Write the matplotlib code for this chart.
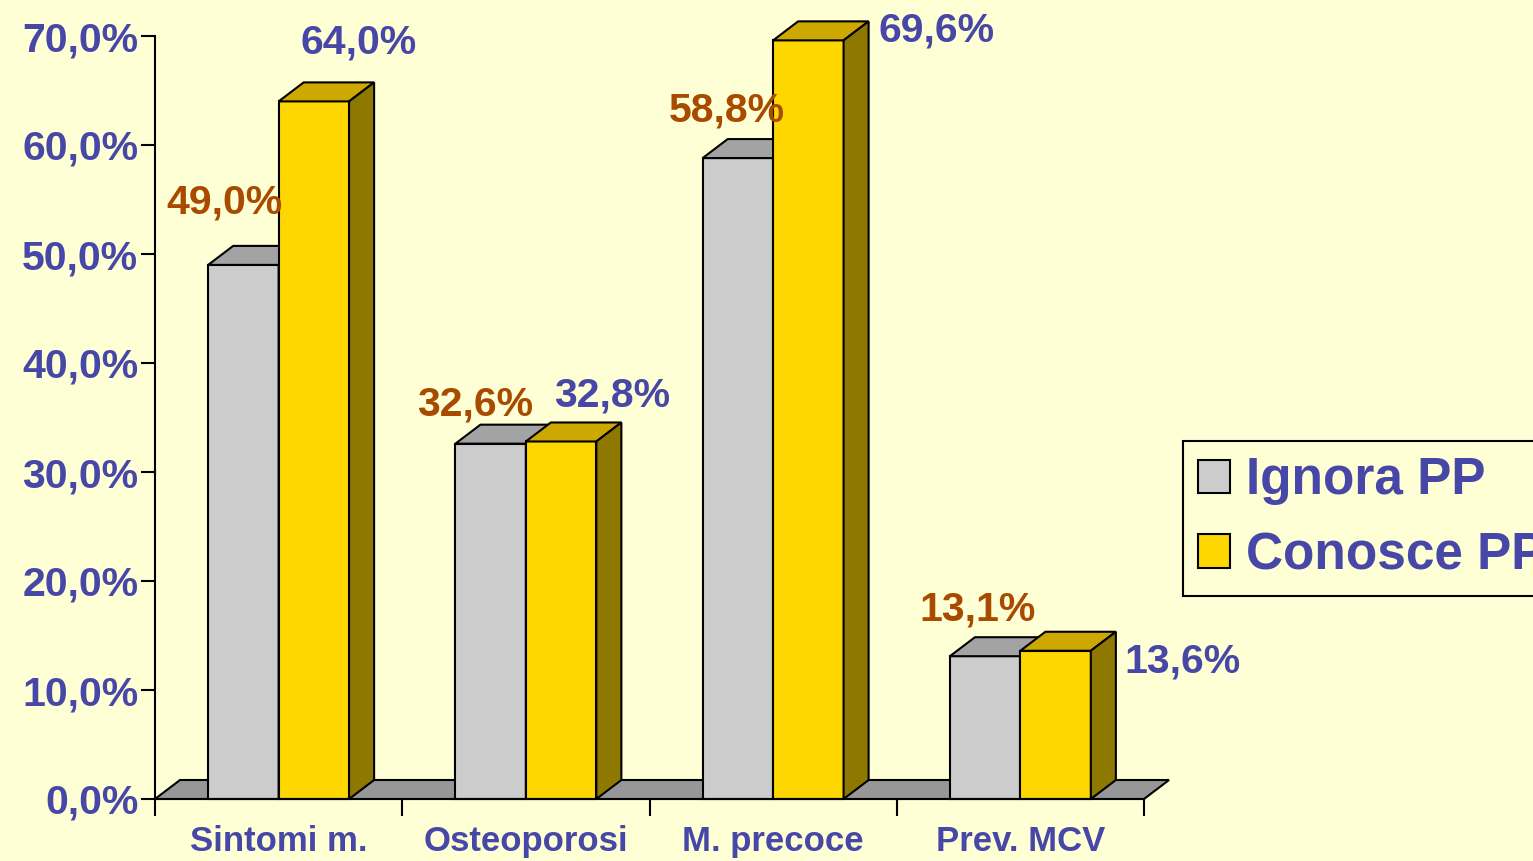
import numpy as np
import matplotlib.pyplot as plt
from matplotlib.patches import Patch

plt.rcParams['font.family'] = ['Liberation Sans', 'DejaVu Sans']
plt.rcParams['font.weight'] = 'bold'

# dati
categorie = ["Sintomi m.", "Osteoporosi", "M. precoce", "Prev. MCV"]
ignora_pp = [49.0, 32.6, 58.8, 13.1]
conosce_pp = [64.0, 32.8, 69.6, 13.6]
serie_nomi = ["Ignora PP", "Conosce PP"]

# spostamenti etichette (pixel)
off_ignora = [(-19, 62), (-16, 39), (-11, 48), (-8, 47)]
off_conosce = [(45, 59), (51, 46), (128, 10), (127, -11)]

BG = "#FFFFD5"
BLU = "#4747A8"
MARRONE = "#A84A00"
GRIGIO = dict(front="#CCCCCC", top="#A3A3A3", side="#7F7F7F")
GIALLO = dict(front="#FFD700", top="#CCA800", side="#8F7800")
PAVIMENTO = "#979797"

fig = plt.figure(figsize=(15.33, 8.61), dpi=100, facecolor=BG)
ax = fig.add_axes([155 / 1533, 62 / 861, 989 / 1533, 763 / 861])
ax.set_facecolor(BG)
ax.set_xlim(0, 4)
ax.set_ylim(0, 70)

# profondità 3D in unità dati
dx = 25 / 247
dy = 19 / 10.9
w = 0.285
g = 0.215
lw = 1.5

# pavimento
ax.fill([0, 4, 4 + dx, dx], [0, 0, dy, dy], facecolor=PAVIMENTO,
        edgecolor="black", lw=lw, zorder=1, clip_on=False)


def barra3d(x0, v, col, z):
    x1 = x0 + w
    ax.bar(x0, v, width=w, align="edge", color=col["front"], edgecolor="black",
           lw=lw, zorder=z, clip_on=False)
    ax.fill([x0, x1, x1 + dx, x0 + dx], [v, v, v + dy, v + dy],
            facecolor=col["top"], edgecolor="black", lw=lw, zorder=z, clip_on=False)
    ax.fill([x1, x1 + dx, x1 + dx, x1], [0, dy, v + dy, v],
            facecolor=col["side"], edgecolor="black", lw=lw, zorder=z, clip_on=False)


for i in range(len(categorie)):
    xg = i + g
    xy = i + g + w
    barra3d(xg, ignora_pp[i], GRIGIO, 2 + 2 * i)
    barra3d(xy, conosce_pp[i], GIALLO, 3 + 2 * i)
    ax.annotate(f"{ignora_pp[i]:.1f}%".replace(".", ","), (xg + w / 2, ignora_pp[i]),
                xytext=off_ignora[i], textcoords="offset pixels", ha="center", va="center",
                color=MARRONE, fontsize=29.5, fontweight="bold", zorder=20,
                annotation_clip=False)
    ax.annotate(f"{conosce_pp[i]:.1f}%".replace(".", ","), (xy + w / 2, conosce_pp[i]),
                xytext=off_conosce[i], textcoords="offset pixels", ha="center", va="center",
                color=BLU, fontsize=29.5, fontweight="bold", zorder=20,
                annotation_clip=False)

# assi
for s in ["top", "right"]:
    ax.spines[s].set_visible(False)
ax.spines["left"].set_linewidth(lw)
ax.spines["bottom"].set_linewidth(lw)
ax.spines["left"].set_zorder(30)
ax.spines["bottom"].set_zorder(30)

yt = np.arange(0, 71, 10)
ax.set_yticks(yt)
ax.set_yticklabels([f"{v:.1f}%".replace(".", ",") for v in yt])
ax.tick_params(axis="y", length=10, width=lw, pad=2, labelsize=29.5, labelcolor=BLU)

ax.set_xticks(np.arange(0, 5))
ax.set_xticklabels([])
ax.set_xticks(np.arange(len(categorie)) + 0.5, minor=True)
ax.set_xticklabels(categorie, minor=True)
ax.tick_params(axis="x", which="major", length=12, width=lw)
ax.tick_params(axis="x", which="minor", length=0, pad=19, labelsize=25, labelcolor=BLU)

handles = [Patch(facecolor=GRIGIO["front"], edgecolor="black", lw=lw),
           Patch(facecolor=GIALLO["front"], edgecolor="black", lw=lw)]
leg = fig.legend(handles, serie_nomi, loc="upper left",
                 bbox_to_anchor=(1183 / 1533, 1 - 441 / 861), fontsize=37,
                 frameon=True, fancybox=False, edgecolor="black", facecolor=BG,
                 framealpha=1, handlelength=0.62, handleheight=0.62, handletextpad=0.3,
                 labelspacing=0.5, borderpad=0.3, borderaxespad=0)
leg.get_frame().set_linewidth(lw)
for t in leg.get_texts():
    t.set_color(BLU)

fig.savefig("out.png", dpi=100, facecolor=BG)
